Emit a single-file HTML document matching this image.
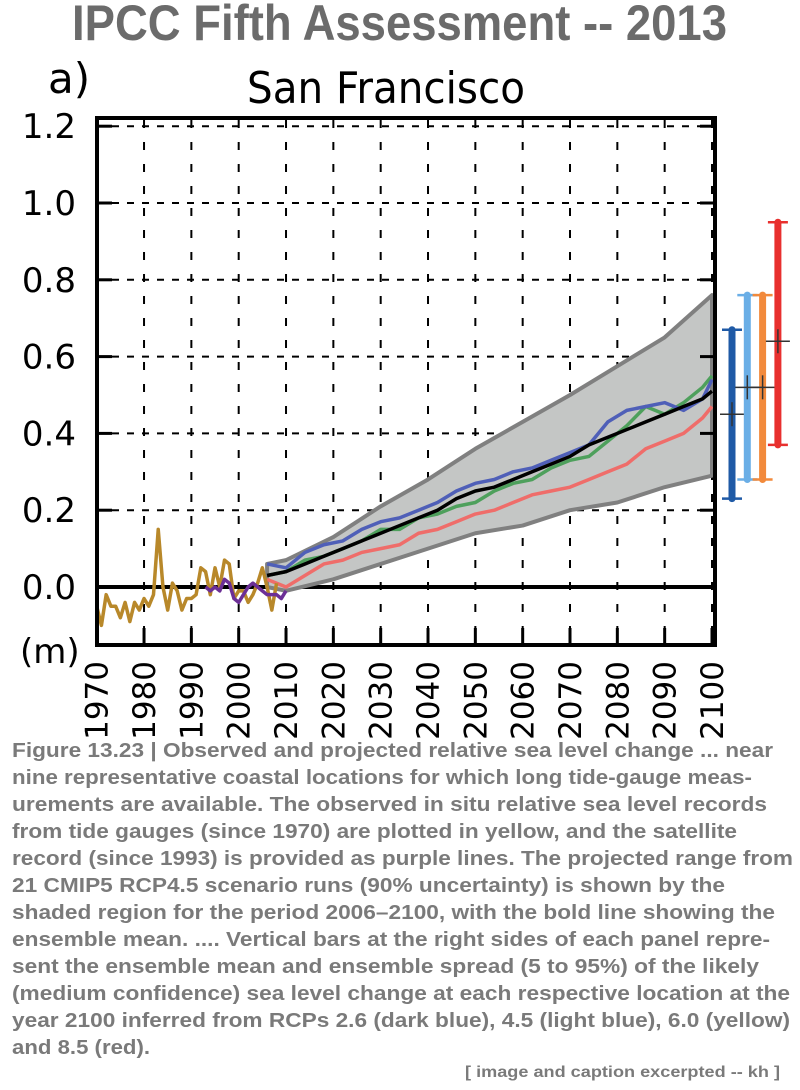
<!DOCTYPE html>
<html><head><meta charset="utf-8"><style>
html,body{margin:0;padding:0;background:#fff;}
svg{display:block;}
.cap{font-family:"Liberation Sans",sans-serif;font-weight:bold;font-size:20px;fill:#7a7a7a;}
.tk{font-family:"DejaVu Sans","Liberation Sans",sans-serif;font-size:34px;fill:#000;}
</style></head><body>
<svg id="page" width="800" height="1090" viewBox="0 0 800 1090">
<text x="72" y="40" textLength="655" lengthAdjust="spacingAndGlyphs" style="font-family:'Liberation Sans',sans-serif;font-weight:bold;font-size:50px;fill:#6b6b6b">IPCC Fifth Assessment -- 2013</text>
<text x="48" y="93" style="font-family:'DejaVu Sans',sans-serif;font-size:42px">a)</text>
<text x="247" y="103" textLength="278" lengthAdjust="spacingAndGlyphs" style="font-family:'DejaVu Sans',sans-serif;font-size:44px">San Francisco</text>
<g id="grid"></g>
<g id="marks"></g>
<rect x="97" y="118" width="618" height="527" fill="none" stroke="#000" stroke-width="4"/>
<g id="axes"></g>
<g id="bars"></g>
<text x="20" y="663" class="tk">(m)</text>
<g>
<text class="cap" x="12" y="757" textLength="761" lengthAdjust="spacingAndGlyphs">Figure 13.23 | Observed and projected relative sea level change ... near</text>
<text class="cap" x="12" y="784" textLength="740" lengthAdjust="spacingAndGlyphs">nine representative coastal locations for which long tide-gauge meas-</text>
<text class="cap" x="12" y="811" textLength="755" lengthAdjust="spacingAndGlyphs">urements are available. The observed in situ relative sea level records</text>
<text class="cap" x="12" y="838" textLength="725" lengthAdjust="spacingAndGlyphs">from tide gauges (since 1970) are plotted in yellow, and the satellite</text>
<text class="cap" x="12" y="865" textLength="781" lengthAdjust="spacingAndGlyphs">record (since 1993) is provided as purple lines. The projected range from</text>
<text class="cap" x="12" y="892" textLength="713" lengthAdjust="spacingAndGlyphs">21 CMIP5 RCP4.5 scenario runs (90% uncertainty) is shown by the</text>
<text class="cap" x="12" y="919" textLength="763" lengthAdjust="spacingAndGlyphs">shaded region for the period 2006–2100, with the bold line showing the</text>
<text class="cap" x="12" y="946" textLength="758" lengthAdjust="spacingAndGlyphs">ensemble mean. .... Vertical bars at the right sides of each panel repre-</text>
<text class="cap" x="12" y="973" textLength="747" lengthAdjust="spacingAndGlyphs">sent the ensemble mean and ensemble spread (5 to 95%) of the likely</text>
<text class="cap" x="12" y="1000" textLength="778" lengthAdjust="spacingAndGlyphs">(medium confidence) sea level change at each respective location at the</text>
<text class="cap" x="12" y="1027" textLength="778" lengthAdjust="spacingAndGlyphs">year 2100 inferred from RCPs 2.6 (dark blue), 4.5 (light blue), 6.0 (yellow)</text>
<text class="cap" x="12" y="1054" textLength="138" lengthAdjust="spacingAndGlyphs">and 8.5 (red).</text>
<text class="cap" x="465" y="1077" textLength="315" lengthAdjust="spacingAndGlyphs" style="font-size:16px">[ image and caption excerpted -- kh ]</text>
</g>
</svg>
<script>
const yTicks=[0.0,0.2,0.4,0.6,0.8,1.0,1.2];
const yTickLabels=["0.0","0.2","0.4","0.6","0.8","1.0","1.2"];
const xTicks=[1970,1980,1990,2000,2010,2020,2030,2040,2050,2060,2070,2080,2090,2100];
const gaugeYears=[1970,1971,1972,1973,1974,1975,1976,1977,1978,1979,1980,1981,1982,1983,1984,1985,1986,1987,1988,1989,1990,1991,1992,1993,1994,1995,1996,1997,1998,1999,2000,2001,2002,2003,2004,2005,2006,2007,2008];
const gaugeValues=[-0.05,-0.1,-0.02,-0.05,-0.05,-0.08,-0.04,-0.09,-0.04,-0.06,-0.03,-0.05,-0.02,0.15,0.0,-0.06,0.01,-0.01,-0.06,-0.03,-0.03,-0.02,0.05,0.04,-0.02,0.05,0.0,0.07,0.06,-0.03,-0.01,-0.01,-0.04,-0.02,0.01,0.05,0.0,-0.06,0.01];
const satYears=[1993,1994,1995,1996,1997,1998,1999,2000,2001,2002,2003,2004,2005,2006,2007,2008,2009,2010];
const satValues=[0.0,-0.01,0.0,-0.01,0.02,0.01,-0.03,-0.04,-0.02,0.0,0.01,0.0,-0.01,-0.02,-0.02,-0.02,-0.03,-0.01];
const rangeYears=[2006,2010,2020,2030,2040,2050,2060,2070,2080,2090,2100];
const rangeUpper=[0.06,0.07,0.13,0.21,0.28,0.36,0.43,0.5,0.575,0.65,0.76];
const rangeLower=[0.0,-0.01,0.02,0.06,0.1,0.14,0.16,0.2,0.22,0.26,0.29];
const projYears=[2006,2010,2014,2018,2022,2026,2030,2034,2038,2042,2046,2050,2054,2058,2062,2066,2070,2074,2078,2082,2086,2090,2094,2098,2100];
const meanValues=[0.03,0.04,0.06,0.08,0.1,0.12,0.14,0.16,0.18,0.2,0.23,0.25,0.26,0.28,0.3,0.32,0.34,0.37,0.39,0.41,0.43,0.45,0.47,0.49,0.51];
const blueValues=[0.06,0.05,0.09,0.11,0.12,0.15,0.17,0.18,0.2,0.22,0.25,0.27,0.28,0.3,0.31,0.33,0.35,0.37,0.43,0.46,0.47,0.48,0.46,0.49,0.54];
const greenValues=[0.03,0.04,0.07,0.08,0.1,0.12,0.15,0.15,0.18,0.19,0.21,0.22,0.25,0.27,0.28,0.31,0.33,0.34,0.38,0.42,0.47,0.45,0.48,0.52,0.55];
const redValues=[0.02,0.0,0.03,0.06,0.07,0.09,0.1,0.11,0.14,0.15,0.17,0.19,0.2,0.22,0.24,0.25,0.26,0.28,0.3,0.32,0.36,0.38,0.4,0.44,0.47];
const rcpNames=["rcp26","rcp45","rcp60","rcp85"];
const rcpMean=[0.45,0.52,0.52,0.64];
const rcpLow=[0.23,0.28,0.28,0.37];
const rcpHigh=[0.67,0.76,0.76,0.95];
const rcpColors=["#1f5aa6","#6aaee6","#f28a3c","#e8302e"];

const NS="http://www.w3.org/2000/svg";
const X=y=>96.7+(y-1970)*(712-96.7)/130;
const Y=v=>587-v*384;
function mk(tag,attrs,parent){const e=document.createElementNS(NS,tag);for(const k in attrs)e.setAttribute(k,attrs[k]);parent.appendChild(e);return e;}
const grid=document.getElementById('grid'),marks=document.getElementById('marks'),axes=document.getElementById('axes'),bars=document.getElementById('bars');
yTicks.forEach((v,i)=>{
 if(v>0){const l=mk('line',{x1:97,x2:715,y1:Y(v),y2:Y(v),stroke:'#000','stroke-width':2,'stroke-dasharray':'7 8'},grid);
 
 }
 const t1=mk('line',{x1:97,x2:112,y1:Y(v),y2:Y(v),stroke:'#000','stroke-width':3},axes);
 
 
 const t2=mk('line',{x1:700,x2:715,y1:Y(v),y2:Y(v),stroke:'#000','stroke-width':3},axes);
 
 
 const tx=mk('text',{x:76,y:Y(v)+12,'text-anchor':'end',class:'tk'},axes);
 tx.textContent=yTickLabels[i];
 
 
});
xTicks.forEach(yr=>{
 if(yr>1970){const l=mk('line',{x1:X(yr),x2:X(yr),y1:120,y2:643,stroke:'#000','stroke-width':2,'stroke-dasharray':'8 14'},grid);
 
 
 const t=mk('line',{x1:X(yr),x2:X(yr),y1:628,y2:645,stroke:'#000','stroke-width':3},axes);
 
 }
 const tx=mk('text',{transform:`translate(${X(yr)+11},661) rotate(-90)`,'text-anchor':'end',class:'tk',style:'font-size:31px'},axes);
 tx.textContent=String(yr);
 
 
});
const z=mk('line',{x1:97,x2:715,y1:Y(0),y2:Y(0),stroke:'#000','stroke-width':4},marks);


let pts=rangeYears.map((y,i)=>X(y)+','+Y(rangeUpper[i])).concat(rangeYears.slice().reverse().map((y,i)=>X(y)+','+Y(rangeLower[rangeLower.length-1-i])));
const band=mk('polygon',{points:pts.join(' '),fill:'#c4c6c5',stroke:'#808080','stroke-width':4,'stroke-linejoin':'round'},marks);


function line(xs,vs,color,w,name){const p=mk('polyline',{points:xs.map((y,i)=>X(y)+','+Y(vs[i])).join(' '),fill:'none',stroke:color,'stroke-width':w,'stroke-linejoin':'round'},marks);}
line(projYears,redValues,'#ef6d6a',3.5,'rcp-red-line');
line(projYears,greenValues,'#4ea05c',3.5,'rcp-green-line');
line(projYears,blueValues,'#4f5fb8',3.5,'rcp-blue-line');
line(projYears,meanValues,'#000',3.5,'ensemble-mean-line');
line(gaugeYears,gaugeValues,'#b8882a',3.5,'tide-gauge-line');
line(satYears,satValues,'#6c2f96',3.5,'satellite-line');
rcpNames.forEach((n,i)=>{
 const cx=732+i*15.3;
 const g=mk('g',{},bars);
 
 
 mk('line',{x1:cx,x2:cx,y1:Y(rcpHigh[i]),y2:Y(rcpLow[i]),stroke:rcpColors[i],'stroke-width':7,'stroke-linecap':'round'},g);
 mk('line',{x1:cx-10,x2:cx+10,y1:Y(rcpHigh[i]),y2:Y(rcpHigh[i]),stroke:rcpColors[i],'stroke-width':2.5},g);
 mk('line',{x1:cx-10,x2:cx+10,y1:Y(rcpLow[i]),y2:Y(rcpLow[i]),stroke:rcpColors[i],'stroke-width':2.5},g);
 mk('line',{x1:cx-12,x2:cx+12,y1:Y(rcpMean[i]),y2:Y(rcpMean[i]),stroke:'#333','stroke-width':1.5},g);
 mk('line',{x1:cx,x2:cx,y1:Y(rcpMean[i])-12,y2:Y(rcpMean[i])+12,stroke:'#333','stroke-width':1.5},g);
});
</script>
</body></html>
